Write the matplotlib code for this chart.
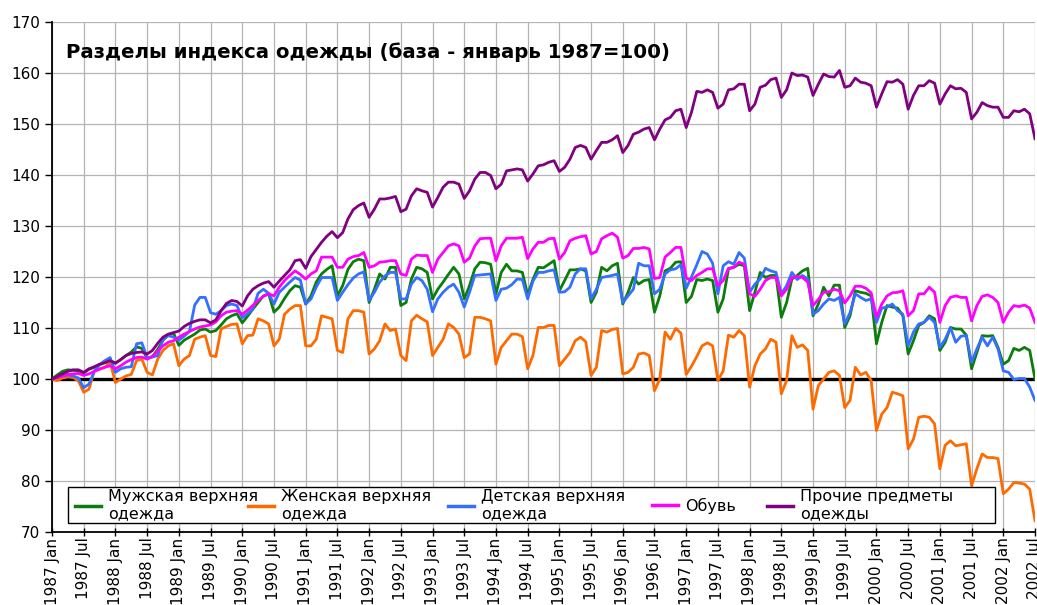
import numpy as np
import matplotlib.pyplot as plt
from matplotlib.patches import Rectangle
from matplotlib.legend import Legend

# monthly index values, Jan 1987 .. Jul 2002 (Jan 1987 = 100)
men = [
    100.0, 100.8, 101.5, 101.8, 101.7, 101.6, 101.2, 101.9, 102.3, 102.8, 103.2, 103.6,
    103.1, 103.8, 104.6, 105.3, 106.3, 106.0, 104.0, 104.4, 105.8, 107.6, 108.6, 109.0,
    106.6, 107.6, 108.2, 108.8, 109.6, 109.8, 109.2, 109.5, 110.6, 111.8, 112.4, 112.8,
    111.0, 112.3, 113.7, 115.0, 116.3, 116.7, 113.1, 114.1, 115.8, 117.3, 118.3, 118.0,
    114.7, 116.3, 119.0, 120.6, 121.5, 122.2, 116.3, 118.3, 121.5, 123.0, 123.5, 123.2,
    115.0, 117.6, 120.6, 119.6, 121.9, 121.9, 114.4, 115.0, 119.6, 121.9, 121.6, 120.9,
    115.7, 117.6, 119.0, 120.5, 121.9, 120.6, 115.7, 118.3, 121.6, 122.9, 122.8, 122.5,
    116.7, 120.9, 122.5, 121.2, 121.2, 120.9, 116.5, 119.5, 121.9, 121.8, 122.5, 123.2,
    117.3, 119.3, 121.4, 121.4, 121.6, 121.2, 115.0, 117.0, 121.9, 121.2, 122.2, 122.7,
    114.7, 117.0, 119.9, 118.6, 119.3, 119.5, 113.1, 116.3, 121.2, 121.7, 122.9, 123.0,
    115.0, 116.2, 119.5, 119.3, 119.6, 119.3, 113.1, 115.7, 121.6, 121.9, 122.5, 122.2,
    113.4, 117.0, 120.9, 119.9, 120.3, 120.3, 112.1, 115.0, 119.6, 120.3, 121.2, 121.7,
    112.4, 114.7, 118.0, 116.3, 118.4, 118.4, 110.1, 112.4, 117.3, 117.0, 116.8, 116.3,
    106.9, 111.1, 114.4, 114.1, 113.9, 112.4, 104.9, 107.5, 110.5, 111.1, 112.4, 111.8,
    105.6, 107.2, 110.1, 109.8, 109.8, 108.6, 102.0, 105.2, 108.5, 108.4, 108.5, 106.2,
    102.9, 103.6, 106.0, 105.6, 106.2, 105.6, 100.0,
]
women = [
    100.0, 99.7, 100.2, 100.4, 100.3, 99.6, 97.4, 98.0, 101.6, 102.0, 102.3, 103.3,
    99.3, 100.0, 100.6, 100.9, 103.6, 103.9, 101.3, 100.8, 103.9, 105.6, 106.5, 106.9,
    102.6, 103.9, 104.6, 107.8, 108.2, 108.5, 104.6, 104.4, 109.8, 110.3, 110.7, 110.8,
    106.9, 108.5, 108.6, 111.8, 111.4, 110.8, 106.5, 107.8, 112.7, 113.7, 114.4, 114.4,
    106.5, 106.5, 107.8, 112.4, 112.1, 111.8, 105.6, 105.2, 111.8, 113.4, 113.4, 113.1,
    104.9, 105.9, 107.5, 110.8, 109.5, 109.8, 104.6, 103.6, 111.4, 112.5, 111.8, 111.2,
    104.6, 106.2, 107.8, 110.8, 110.1, 108.8, 104.2, 104.9, 112.1, 112.1, 111.8, 111.4,
    102.9, 106.2, 107.5, 108.8, 108.8, 108.3, 102.0, 104.6, 110.1, 110.1, 110.5, 110.5,
    102.6, 103.9, 105.2, 107.5, 108.2, 107.3, 100.7, 102.3, 109.5, 109.2, 109.7, 109.9,
    101.0, 101.3, 102.3, 104.9, 105.1, 104.6, 97.7, 100.0, 109.2, 107.8, 109.9, 109.0,
    100.9, 102.5, 104.4, 106.5, 107.1, 106.5, 99.7, 101.6, 108.6, 108.2, 109.5, 108.5,
    98.4, 102.6, 104.9, 105.9, 107.8, 107.2, 97.1, 99.7, 108.5, 106.2, 106.7, 105.6,
    94.1, 98.7, 100.0, 101.3, 101.6, 100.7, 94.4, 95.8, 102.3, 100.8, 101.3, 99.7,
    89.9, 93.1, 94.4, 97.4, 97.1, 96.7, 86.3, 88.2, 92.5, 92.7, 92.5, 91.2,
    82.4, 87.0, 87.9, 86.9, 87.1, 87.3, 79.1, 82.4, 85.3, 84.6, 84.6, 84.4,
    77.5, 78.4, 79.7, 79.6, 79.4, 78.4, 72.2,
]
kids = [
    100.0, 100.4, 100.6, 100.8, 100.6, 100.2, 98.3, 99.0, 101.5, 102.8, 103.6, 104.2,
    101.3, 102.0, 102.3, 102.4, 106.9, 107.1, 104.2, 104.3, 104.6, 107.8, 108.5, 108.2,
    107.6, 108.4, 109.3, 114.5, 116.0, 116.0, 113.0, 112.7, 113.4, 114.4, 114.7, 114.4,
    112.0, 112.8, 113.7, 116.8, 117.6, 116.8, 114.7, 117.0, 118.0, 119.0, 119.9, 119.4,
    114.7, 115.7, 118.0, 119.9, 119.9, 119.9, 115.4, 117.0, 118.5, 119.8, 120.6, 121.0,
    115.4, 117.0, 119.0, 120.2, 120.9, 120.9, 115.7, 115.7, 118.6, 119.9, 119.3, 117.6,
    113.2, 115.7, 117.0, 118.0, 118.6, 117.0, 114.1, 117.0, 120.3, 120.4, 120.5, 120.6,
    115.4, 117.6, 117.8, 118.5, 119.6, 119.5, 115.7, 119.2, 120.9, 120.9, 121.2, 121.4,
    117.0, 117.1, 118.0, 120.6, 121.6, 121.6, 115.7, 117.6, 119.9, 120.1, 120.3, 120.6,
    115.0, 116.3, 117.6, 122.7, 122.2, 122.2, 116.7, 117.6, 120.6, 121.4, 121.6, 122.4,
    117.8, 120.0, 122.4, 125.0, 124.5, 122.7, 116.7, 122.2, 123.0, 122.5, 124.8, 123.7,
    117.0, 118.6, 119.6, 121.7, 121.2, 120.9, 116.7, 118.3, 120.9, 119.5, 120.3, 119.6,
    112.7, 113.4, 114.7, 115.7, 115.4, 116.0, 110.8, 113.0, 116.7, 116.0, 115.4, 115.7,
    111.1, 113.9, 114.1, 114.7, 113.4, 112.7, 106.5, 109.2, 110.8, 111.1, 112.1, 111.1,
    106.2, 107.8, 110.1, 107.2, 108.4, 108.5, 103.3, 105.9, 108.2, 106.5, 108.2, 105.9,
    101.6, 101.3, 99.9, 100.1, 100.1, 98.4, 95.8,
]
shoes = [
    100.0, 100.3, 100.6, 100.9, 101.0, 101.1, 100.7, 101.0, 101.5, 101.9, 102.3, 102.6,
    102.0, 102.6, 103.3, 103.8, 104.2, 104.3, 103.9, 104.4, 105.5, 106.5, 107.2, 107.5,
    108.2, 108.8, 109.3, 109.8, 110.2, 110.4, 110.6, 111.2, 112.4, 113.1, 113.3, 113.4,
    112.7, 113.5, 114.4, 115.4, 116.2, 116.7, 116.3, 118.0, 119.3, 120.3, 121.2, 120.5,
    119.6, 120.6, 121.2, 123.9, 123.9, 123.9, 121.9, 121.9, 123.5, 124.0, 124.2, 124.8,
    121.9, 122.2, 122.9, 123.0, 123.2, 123.2, 120.6, 120.3, 123.5, 124.3, 124.2, 124.2,
    120.9, 123.5, 124.8, 126.1, 126.5, 126.1, 122.9, 123.7, 126.1, 127.5, 127.6, 127.6,
    123.2, 126.1, 127.6, 127.6, 127.6, 127.8, 123.6, 125.5, 126.8, 126.8, 127.5, 127.6,
    123.5, 124.8, 127.1, 127.6, 127.9, 128.1, 124.5, 125.0, 127.5, 128.1, 128.6, 127.8,
    123.7, 124.2, 125.6, 125.6, 125.8, 125.5, 119.7, 119.9, 123.9, 124.8, 125.8, 125.8,
    119.8, 119.3, 120.3, 120.9, 121.6, 121.6, 118.3, 119.3, 121.7, 121.9, 122.9, 122.5,
    116.7, 116.2, 117.6, 119.3, 119.9, 119.9, 116.3, 117.6, 119.9, 120.1, 119.9, 119.0,
    114.4, 115.6, 117.0, 117.1, 117.6, 117.3, 114.9, 116.3, 118.2, 118.2, 117.8, 116.9,
    112.1, 114.7, 116.3, 116.9, 117.0, 117.3, 112.4, 113.4, 116.7, 116.7, 118.0, 117.0,
    111.1, 114.4, 116.0, 116.3, 116.0, 116.0, 111.4, 114.4, 116.2, 116.5, 116.0, 115.0,
    111.1, 113.1, 114.4, 114.2, 114.5, 113.9, 111.1,
]
other = [
    100.0, 100.5, 101.0, 101.5, 101.8, 101.8, 101.3, 102.0, 102.4, 102.9, 103.2, 103.6,
    103.1, 103.8, 104.6, 105.0, 105.2, 105.3, 104.9, 105.6, 107.0, 108.2, 108.8, 109.1,
    109.4, 110.3, 110.9, 111.3, 111.6, 111.6, 111.0, 111.6, 113.4, 114.8, 115.4, 115.2,
    114.3, 116.3, 117.6, 118.3, 118.8, 119.1, 118.0, 119.2, 120.3, 121.4, 123.2, 123.4,
    121.7, 124.0, 125.4, 126.8, 128.0, 128.9, 127.7, 128.7, 131.4, 133.2, 134.0, 134.5,
    131.7, 133.3, 135.3, 135.3, 135.5, 135.8, 132.8, 133.3, 135.9, 137.3, 136.9, 136.6,
    133.7, 135.6, 137.6, 138.6, 138.6, 138.2, 135.4, 136.9, 139.2, 140.5, 140.5, 139.9,
    137.3, 138.2, 140.8, 141.0, 141.2, 141.0, 138.8, 140.2, 141.8, 142.0, 142.5, 142.8,
    140.7, 141.5, 143.1, 145.4, 145.8, 145.4, 143.1, 144.8, 146.4, 146.4, 146.9, 147.7,
    144.4, 145.8, 148.0, 148.4, 149.0, 149.3, 146.9, 149.0, 150.8, 151.3, 152.6, 152.9,
    149.3, 152.3, 156.4, 156.2, 156.7, 156.2, 153.1, 153.9, 156.7, 156.9, 157.8, 157.8,
    152.6, 153.9, 157.2, 157.6, 158.7, 159.0, 155.2, 156.7, 160.0, 159.5, 159.6, 159.2,
    155.6, 157.8, 159.8, 159.3, 159.2, 160.5, 157.2, 157.5, 159.0, 158.2, 158.0, 157.5,
    153.3, 155.9, 158.3, 158.2, 158.7, 157.8, 152.9, 155.6, 157.5, 157.5, 158.5, 158.0,
    153.9, 155.9, 157.5, 156.9, 157.0, 156.2, 151.0, 152.3, 154.2, 153.6, 153.3, 153.3,
    151.3, 151.3, 152.6, 152.4, 152.9, 152.0, 147.1,
]

series_names = ["Мужская верхняя\nодежда", "Женская верхняя\nодежда",
                "Детская верхняя\nодежда", "Обувь", "Прочие предметы\nодежды"]
series_colors = ["#0a7d0a", "#ff6a00", "#3370ff", "#ff00ff", "#800080"]
years = list(range(1987, 2003))
tick_labels = [f"{y} {m}" for y in years for m in ("Jan", "Jul")]

x = np.arange(len(men))

plt.rcParams['font.family'] = ['DejaVu Sans']

fig = plt.figure(figsize=(10.37, 6.05), dpi=100)
ax = fig.add_axes([52 / 1037, 1 - 532 / 605, 983 / 1037, 510 / 605])

ax.axhline(100, color="black", lw=2.4, zorder=2)
lines = []
for vals, name, col in zip([men, women, kids, shoes, other], series_names, series_colors):
    ln, = ax.plot(x, vals, color=col, lw=2.0, label=name, zorder=3)
    lines.append(ln)

ax.set_xlim(0, len(x) - 1)
ax.set_ylim(70, 170)
ax.set_yticks(np.arange(70, 171, 10))
xt = np.arange(0, len(x), 6)
ax.set_xticks(xt)
ax.set_xticklabels(tick_labels[:len(xt)], rotation=90, fontsize=11)
ax.tick_params(axis="y", labelsize=11, direction="out", length=5, width=1)
ax.tick_params(axis="x", direction="inout", length=6, width=1, pad=1)
ax.grid(True, color="#b4b4b4", lw=0.9)
ax.set_axisbelow(True)
for s in ("top", "right"):
    ax.spines[s].set_visible(False)
ax.spines["left"].set_linewidth(1.3)
ax.spines["bottom"].set_linewidth(1.3)

ax.text(0.0145, 0.941, "Разделы индекса одежды (база - январь 1987=100)",
        transform=ax.transAxes, fontsize=14.2, fontweight="bold", va="center")

# legend: white framed box with one entry per column at fixed positions
ax.add_patch(Rectangle((0.016, 0.0176), 0.943, 0.0706, transform=ax.transAxes,
                       facecolor="white", edgecolor="black", lw=1.0, zorder=6))
entry_x = [0.0234, 0.1994, 0.4028, 0.6104, 0.7274]
for ln, ex in zip(lines, entry_x):
    lg = Legend(ax, [ln], [ln.get_label()], loc="center left",
                bbox_to_anchor=(ex, 0.052), frameon=False, fontsize=11.5,
                borderpad=0, borderaxespad=0, handlelength=1.65,
                handletextpad=0.4, labelspacing=0.1)
    lg.set_zorder(7)
    for h in lg.get_lines():
        h.set_linewidth(2.5)
    ax.add_artist(lg)

plt.savefig("out.png", dpi=100)
